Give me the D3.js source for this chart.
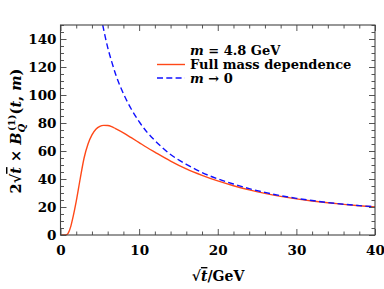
<!DOCTYPE html>
<html><head><meta charset="utf-8">
<script src="https://cdn.jsdelivr.net/npm/d3@7"></script>
<style>
body{margin:0;background:#fff;}
text{font-family:"DejaVu Serif",serif;font-weight:bold;fill:#000;}
</style></head><body>
<svg id="c" width="384" height="289"></svg>
<script>
// Data
const fullX = [0,0.5,0.8,1.0,1.3,1.6,2.0,2.5,3.0,3.5,4.0,4.5,5.0,5.5,6.0,6.5,7,8,9,10,11,12,14,16,18,20,22,24,26,28,30,32,34,36,38,40];
const fullY = [0,0,0.3,1.5,6,13,24,40,55,65,71.5,75.5,77.6,78.3,78.2,77.4,76,73,69.5,66,62.5,59.2,52.8,47.2,42.6,38.6,35.2,32.2,29.7,27.6,25.8,24.3,23,21.9,20.9,20.1];
const zeroX = [5.37,6,6.5,7,8,9,10,11,12,14,16,18,20,22,24,26,28,30,32,34,36,38,40];
const zeroY = [150,134,124,115,101,90,81,73.5,67.5,57.5,50.5,44.6,40.1,36.4,33.1,30.4,28.1,26.2,24.6,23.2,22,21,20.1];
const xTicks = [0,10,20,30,40];
const yTicks = [0,20,40,60,80,100,120,140];
const legendLabels = ["Full mass dependence"];

const svg = d3.select("#c");
const L=60.5, R=375, T=25, B=235;
const x = d3.scaleLinear().domain([0,40]).range([L,R]);
const y = d3.scaleLinear().domain([0,150]).range([B,T]);
const dash = "6,3.3";

// curves
const line = d3.line().x(d=>x(d[0])).y(d=>y(d[1])).curve(d3.curveMonotoneX);
svg.append("defs").append("clipPath").attr("id","clip").append("rect")
  .attr("x",L).attr("y",T).attr("width",R-L).attr("height",B-T);
svg.append("path").datum(fullX.map((v,i)=>[v,fullY[i]]))
  .attr("d",line).attr("fill","none").attr("stroke","#ff4818").attr("stroke-width",1.4).attr("clip-path","url(#clip)");
svg.append("path").datum(zeroX.map((v,i)=>[v,zeroY[i]]))
  .attr("d",line).attr("fill","none").attr("stroke","#1010ff").attr("stroke-width",1.4)
  .attr("stroke-dasharray",dash).attr("clip-path","url(#clip)");

// axes with inward ticks, mirrored
const tickCol="#555";
function addAxis(axis, tr){
  const g = svg.append("g").attr("transform",tr).call(axis);
  g.select(".domain").remove();
  g.selectAll("line").attr("stroke",tickCol).attr("stroke-width",1);
  return g;
}
const xMinor = d3.range(0,41,2).filter(v=>v%10!==0);
const yMinor = d3.range(0,151,5).filter(v=>v%20!==0);
// bottom
const gxb = addAxis(d3.axisBottom(x).tickValues(xTicks).tickSize(-6).tickPadding(10).tickFormat(d3.format("d")),`translate(0,${B})`);
gxb.selectAll("text").attr("font-size",13.5).attr("font-family","DejaVu Serif").attr("font-weight","bold").attr("fill","#000");
addAxis(d3.axisBottom(x).tickValues(xMinor).tickSize(-3.5).tickFormat(""),`translate(0,${B})`);
// top
addAxis(d3.axisTop(x).tickValues(xTicks).tickSize(-6).tickFormat(""),`translate(0,${T})`);
addAxis(d3.axisTop(x).tickValues(xMinor).tickSize(-3.5).tickFormat(""),`translate(0,${T})`);
// left
const gyl = addAxis(d3.axisLeft(y).tickValues(yTicks).tickSize(-6).tickPadding(4).tickFormat(d3.format("d")),`translate(${L},0)`);
gyl.selectAll("text").attr("font-size",13.5).attr("font-family","DejaVu Serif").attr("font-weight","bold").attr("fill","#000");
addAxis(d3.axisLeft(y).tickValues(yMinor).tickSize(-3.5).tickFormat(""),`translate(${L},0)`);
// right
addAxis(d3.axisRight(y).tickValues(yTicks).tickSize(-6).tickFormat(""),`translate(${R},0)`);
addAxis(d3.axisRight(y).tickValues(yMinor).tickSize(-3.5).tickFormat(""),`translate(${R},0)`);
// frame
svg.append("rect").attr("x",L).attr("y",T).attr("width",R-L).attr("height",B-T)
  .attr("fill","none").attr("stroke","#444").attr("stroke-width",1.1);

// legend
const lg = svg.append("g");
const t1 = lg.append("text").attr("x",190).attr("y",55).attr("font-size",13);
t1.append("tspan").attr("font-style","italic").text("m");
t1.append("tspan").text(" = 4.8 GeV");
lg.append("line").attr("x1",157).attr("x2",185).attr("y1",64.5).attr("y2",64.5).attr("stroke","#ff4818").attr("stroke-width",1.4);
lg.append("text").attr("x",190).attr("y",69).attr("font-size",13).text(legendLabels[0]);
lg.append("line").attr("x1",157).attr("x2",185).attr("y1",78).attr("y2",78).attr("stroke","#1010ff").attr("stroke-width",1.4).attr("stroke-dasharray",dash);
const t3 = lg.append("text").attr("x",190).attr("y",83).attr("font-size",13);
t3.append("tspan").attr("font-style","italic").text("m");
t3.append("tspan").text(" → 0");

// x title
const xt = svg.append("text").attr("x",218).attr("y",281).attr("text-anchor","middle").attr("font-size",14);
xt.append("tspan").text("√");
xt.append("tspan").attr("font-style","italic").style("text-decoration","overline").text("t");
xt.append("tspan").text("/GeV");

// y title
const yt = svg.append("text").attr("transform","translate(21,131) rotate(-90)").attr("text-anchor","middle").attr("font-size",14.5);
yt.append("tspan").text("2√");
yt.append("tspan").attr("font-style","italic").style("text-decoration","overline").text("t");
yt.append("tspan").text(" × ");
yt.append("tspan").attr("font-style","italic").text("B");
yt.append("tspan").attr("font-style","italic").attr("font-size",10).attr("dy",4).text("Q");
yt.append("tspan").attr("font-size",10).attr("dx",-7).attr("dy",-10).text("(1)");
yt.append("tspan").attr("dy",6).text("(");
yt.append("tspan").attr("font-style","italic").text("t");
yt.append("tspan").text(", ");
yt.append("tspan").attr("font-style","italic").text("m");
yt.append("tspan").text(")");
</script>
</body></html>
